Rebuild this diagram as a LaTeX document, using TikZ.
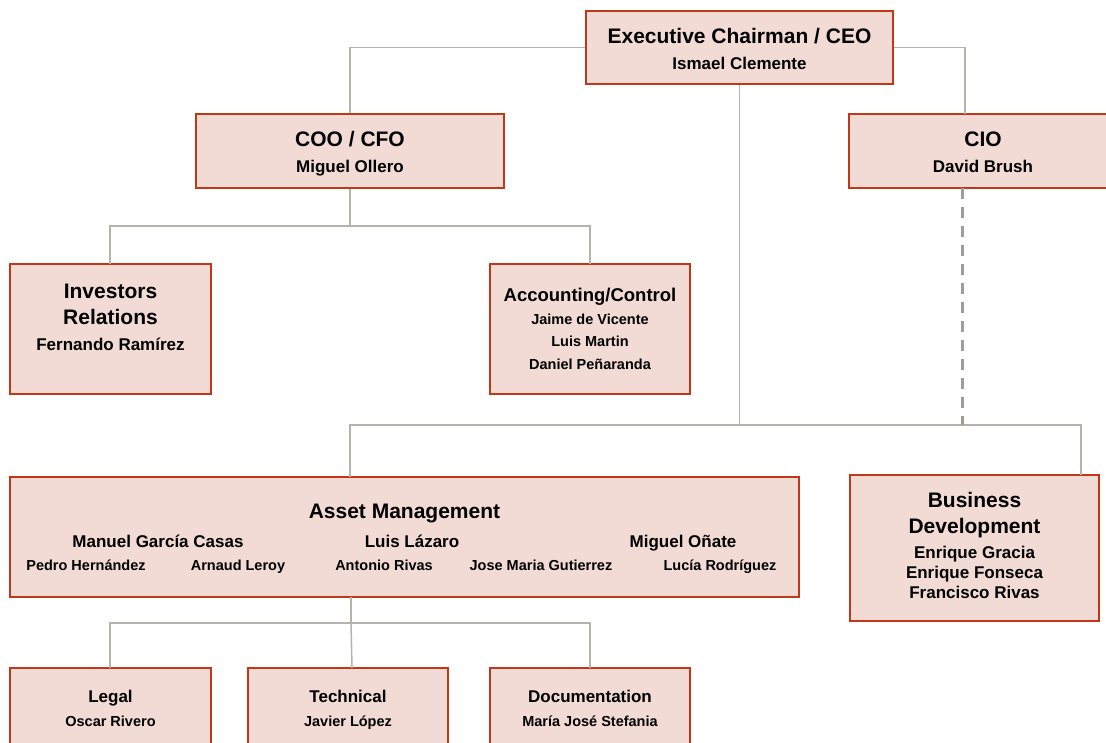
\documentclass[tikz,border=0pt]{standalone}
\usepackage{fontspec}
\setmainfont{Liberation Sans}
\usepackage{tikz}
\usetikzlibrary{calc}
\usepackage{xcolor}
\definecolor{boxfill}{RGB}{242,219,212}
\definecolor{boxline}{RGB}{192,56,24}
\definecolor{linkgray}{RGB}{182,178,174}
\definecolor{dashgray}{RGB}{160,156,152}

\begin{document}
\begin{tikzpicture}[x=1pt,y=-1pt,
  box/.style={draw=boxline,fill=boxfill,line width=2pt,inner sep=0pt},
  link/.style={draw=linkgray,line width=1.5pt},
  dotlink/.style={draw=dashgray,line width=3pt,dash pattern=on 11pt off 8pt},
  txt/.style={anchor=base,inner sep=0pt,font=\bfseries},
  head/.style={txt,font=\fontsize{21}{25}\selectfont\bfseries},
  who/.style={txt,font=\fontsize{17}{20}\selectfont\bfseries},
  staff/.style={txt,font=\fontsize{14.5}{17}\selectfont\bfseries}]
  \useasboundingbox (0,0) rectangle (1106,743);
  \clip (0,0) rectangle (1106,743);
  % boxes
  \node[box,minimum width=307pt,minimum height=73pt] (ceo) at (739.5,47.5) {};
  \node[box,minimum width=308pt,minimum height=74pt] (coo) at (350,151) {};
  \node[box,minimum width=268pt,minimum height=74pt] (cio) at (983,151) {};
  \node[box,minimum width=201pt,minimum height=130pt] (ir) at (110.5,329) {};
  \node[box,minimum width=200pt,minimum height=130pt] (acc) at (590,329) {};
  \node[box,minimum width=789pt,minimum height=120pt] (am) at (404.5,537) {};
  \node[box,minimum width=249pt,minimum height=146pt] (bd) at (974.5,548) {};
  \node[box,minimum width=201pt,minimum height=130pt] (legal) at (110.5,733) {};
  \node[box,minimum width=200pt,minimum height=130pt] (tech) at (348,733) {};
  \node[box,minimum width=200pt,minimum height=130pt] (doc) at (590,733) {};

  % top level
  \node[head] (ceo-t) at (739.5,44) {Executive Chairman / CEO};
  \node[who] (ceo-n) at (739.5,70) {Ismael Clemente};
  \node[head] (coo-t) at (350,147) {COO / CFO};
  \node[who] (coo-n) at (350,173) {Miguel Ollero};
  \node[head] (cio-t) at (983,147) {CIO};
  \node[who] (cio-n) at (983,173) {David Brush};

  % under the COO
  \node[head] (ir-t1) at (110.5,299) {Investors};
  \node[head] (ir-t2) at (110.5,325) {Relations};
  \node[who] (ir-n) at (110.5,351) {Fernando Ramírez};
  \node[txt,font=\fontsize{18.5}{22}\selectfont\bfseries] (acc-t) at (590,302) {Accounting/Control};
  \node[staff] (acc-n1) at (590,325) {Jaime de Vicente};
  \node[staff] (acc-n2) at (590,347) {Luis Martin};
  \node[staff] (acc-n3) at (590,370) {Daniel Peñaranda};

  % asset management
  \node[head] (am-t) at (404.5,518) {Asset Management};
  \node[who] (am-a) at (158,547) {Manuel García Casas};
  \node[who] (am-b) at (412,547) {Luis Lázaro};
  \node[who] (am-c) at (683,547) {Miguel Oñate};
  \node[staff] (am-a1) at (86,570) {Pedro Hernández};
  \node[staff] (am-a2) at (238,570) {Arnaud Leroy};
  \node[staff] (am-b1) at (384,570) {Antonio Rivas};
  \node[staff] (am-b2) at (541,570) {Jose Maria Gutierrez};
  \node[staff] (am-c1) at (720,570) {Lucía Rodríguez};

  % business development
  \node[head] (bd-t1) at (974.5,507) {Business};
  \node[head] (bd-t2) at (974.5,533) {Development};
  \node[who] (bd-n1) at (974.5,558) {Enrique Gracia};
  \node[who] (bd-n2) at (974.5,578) {Enrique Fonseca};
  \node[who] (bd-n3) at (974.5,598) {Francisco Rivas};

  % support teams
  \foreach \tm/\x/\ttl/\nm in {legal/110.5/Legal/Oscar Rivero,
      tech/348/Technical/Javier López, doc/590/Documentation/María José Stefania}{
    \node[txt,font=\fontsize{17}{20}\selectfont\bfseries] (\tm-t) at (\x,702) {\ttl};
    \node[staff] (\tm-n) at (\x,726) {\nm};
  }

  % junction points
  \coordinate (cioin) at (965,114);
  \coordinate (ciodash) at (962,188);
  \coordinate (bus) at (740,425);
  \coordinate (amtop) at (350,477);
  \coordinate (bdtop) at (1081,475);
  \coordinate (coojoin) at (350,226);
  \coordinate (irtop) at (110,264);
  \coordinate (acctop) at (590,264);
  \coordinate (amdown) at (351,597);
  \coordinate (teamjoin) at (351,623);
  \coordinate (legaltop) at (110,668);
  \coordinate (techtop) at (352,668);
  \coordinate (doctop) at (590,668);

  % connectors
  \draw[link] (ceo.west) -| (coo.north);
  \draw[link] (ceo.east) -| (cioin);
  \draw[link] (ceo.south) -- (ceo.south |- bus);
  \draw[link] (amtop) |- (bdtop |- bus) -- (bdtop);
  \draw[dotlink] (ciodash) -- (ciodash |- bus);
  \draw[link] (coo.south) -- (coojoin);
  \draw[link] (irtop) |- (acctop |- coojoin) -- (acctop);
  \draw[link] (amdown) -- (teamjoin);
  \draw[link] (legaltop) |- (doctop |- teamjoin) -- (doctop);
  \draw[link] (teamjoin) -- (techtop);
\end{tikzpicture}
\end{document}
